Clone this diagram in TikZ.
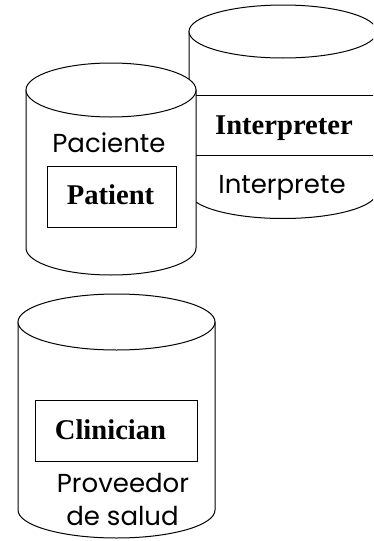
\documentclass[tikz,border=0pt]{standalone}
\usepackage{fontspec}
\setmainfont{Liberation Serif}
\newfontfamily\labelfont{Poppins}

% one upright drum: centre x, top y, bottom y, x radius, y radius
\newcommand{\drum}[5]{%
  \filldraw[fill=white] (#1-#4,#2) -- (#1-#4,#3)
    arc[start angle=180,end angle=0,x radius=#4,y radius=#5]
    -- (#1+#4,#2) -- cycle;
  \draw[fill=white] (#1,#2) ellipse[x radius=#4,y radius=#5];
}

\begin{document}
\begin{tikzpicture}
    [x=1pt,y=-1pt,line width=1pt,
     en/.style={font=\fontsize{28.6}{30}\selectfont\bfseries,anchor=base},
     es/.style={font=\labelfont\fontsize{26}{28}\selectfont,anchor=base}]
    \useasboundingbox (0,0) rectangle (373,541);
    \clip (0,0) rectangle (373,541);
    % interpreter
    \drum{283}{31.5}{192}{94}{26.5}
    % patient
    \drum{111}{90}{248}{85}{27}
    \draw (196,95) -- (380,95);
    \draw (196,155) -- (380,155);
    \node[en] (interp) at (284,134) {Interpreter};
    \node[es] (interpes) at (282,193) {Interprete};
    \draw (47,166) rectangle (176,227);
    \node[en] (pat) at (110.5,204) {Patient};
    \node[es] (pates) at (109,152) {Paciente};
    % clinician
    \drum{116.5}{322}{510}{98.5}{28}
    \draw (35,400) rectangle (197,461);
    \node[en] (clin) at (110.5,439) {Clinician};
    \node[es] (prov) at (123,492) {Proveedor};
    \node[es] (salud) at (122.5,525) {de salud};
  \end{tikzpicture}
\end{document}
